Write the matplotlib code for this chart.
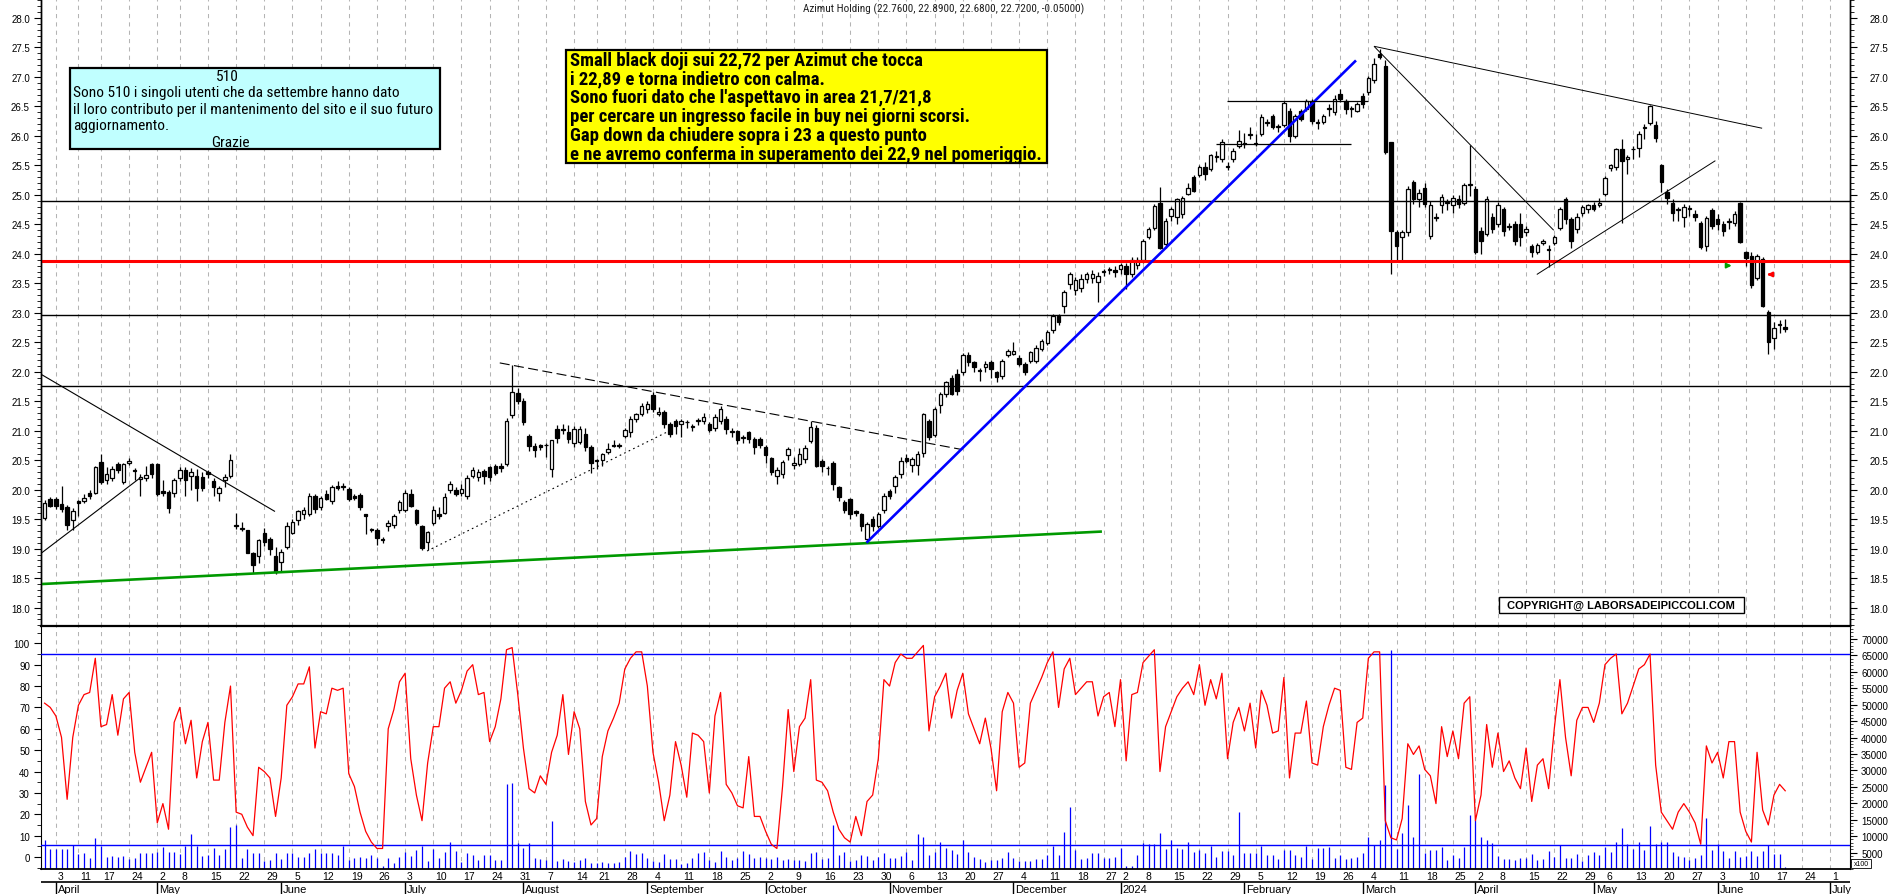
import numpy as np
import pandas as pd
import matplotlib
matplotlib.use("Agg")
import matplotlib.pyplot as plt
from matplotlib import font_manager as fm
from matplotlib.patches import Rectangle
from matplotlib.ticker import MultipleLocator, FixedLocator, FormatStrFormatter

plt.rcParams['font.family'] = ['Liberation Sans', 'DejaVu Sans']

# ---------------- data ----------------
HOLIDAYS = ["2023-04-07", "2023-04-10", "2023-05-01", "2023-08-15", "2023-12-25",
            "2023-12-26", "2024-01-01", "2024-03-29", "2024-04-01", "2024-05-01"]
FIRST_DAY, LAST_CAL_DAY = "2023-03-30", "2024-07-05"

OPEN = [
    19.52, 19.85, 19.85, 19.76, 19.70, 19.48, 19.80, 19.80, 19.95, 19.95,
    20.47, 20.16, 20.20, 20.44, 20.13, 20.45, 20.34, 20.18, 20.20, 20.43,
    20.43, 19.97, 19.96, 19.95, 20.20, 20.34, 20.23, 20.24, 20.22, 20.30,
    20.15, 19.95, 20.17, 20.24, 19.40, 19.33, 19.31, 18.93, 18.87, 19.27,
    19.17, 18.87, 18.77, 19.03, 19.27, 19.48, 19.59, 19.59, 19.90, 19.71,
    19.93, 19.80, 20.06, 20.04, 20.02, 19.89, 19.91, 19.58, 19.32, 19.32,
    19.17, 19.38, 19.40, 19.66, 19.66, 19.93, 19.66, 19.38, 19.11, 19.44,
    19.59, 19.61, 20.00, 20.00, 19.95, 19.89, 20.24, 20.21, 20.31, 20.38,
    20.41, 20.41, 20.44, 21.27, 21.64, 21.51, 20.91, 20.74, 20.75, 20.75,
    20.35, 21.03, 21.02, 20.98, 20.80, 20.81, 20.95, 20.72, 20.48, 20.50,
    20.64, 20.76, 20.75, 20.91, 20.97, 21.20, 21.29, 21.36, 21.60, 21.28,
    21.31, 21.11, 21.16, 21.11, 21.14, 21.06, 21.16, 21.17, 21.11, 21.04,
    21.17, 21.20, 20.98, 20.99, 20.87, 20.97, 20.86, 20.86, 20.72, 20.54,
    20.24, 20.27, 20.58, 20.42, 20.44, 20.52, 20.83, 21.04, 20.49, 20.36,
    20.45, 20.04, 19.79, 19.84, 19.63, 19.59, 19.17, 19.50, 19.39, 19.65,
    19.97, 20.06, 20.27, 20.53, 20.42, 20.42, 20.63, 21.17, 20.93, 21.43,
    21.62, 21.89, 21.96, 21.99, 22.29, 22.16, 22.02, 22.08, 22.16, 21.99,
    21.92, 22.29, 22.30, 22.23, 22.13, 22.19, 22.19, 22.39, 22.49, 22.71,
    22.95, 23.12, 23.49, 23.38, 23.42, 23.57, 23.59, 23.52, 23.70, 23.73,
    23.73, 23.74, 23.79, 23.65, 23.81, 23.90, 24.28, 24.43, 24.86, 24.17,
    24.65, 24.63, 24.68, 25.02, 25.30, 25.33, 25.48, 25.44, 25.64, 25.61,
    25.48, 25.61, 25.83, 25.87, 26.02, 25.88, 26.03, 26.22, 26.34, 26.15,
    26.18, 26.43, 26.00, 26.43, 26.46, 26.60, 26.22, 26.24, 26.45, 26.40,
    26.71, 26.60, 26.45, 26.43, 26.67, 26.74, 26.94, 27.39, 27.19, 25.89,
    24.37, 24.28, 24.37, 25.21, 24.93, 25.11, 24.31, 24.61, 24.83, 24.86,
    24.82, 24.93, 24.87, 25.17, 25.10, 24.39, 24.34, 24.62, 24.51, 24.76,
    24.45, 24.51, 24.51, 24.37, 24.14, 24.03, 24.19, 24.07, 24.18, 24.43,
    24.93, 24.59, 24.42, 24.70, 24.76, 24.83, 24.82, 25.02, 25.45, 25.47,
    25.78, 25.61, 25.77, 25.79, 26.14, 26.22, 26.18, 25.51, 25.05, 24.87,
    24.75, 24.62, 24.76, 24.68, 24.53, 24.13, 24.74, 24.59, 24.51, 24.54,
    24.52, 24.86, 24.03, 23.96, 23.59, 23.92, 23.02, 22.58, 22.80, 22.76,
]
HIGH = [
    19.82, 19.87, 19.88, 20.07, 19.74, 19.69, 19.82, 19.92, 19.99, 20.41,
    20.60, 20.38, 20.40, 20.47, 20.46, 20.53, 20.37, 20.27, 20.40, 20.46,
    20.46, 20.16, 20.00, 20.20, 20.38, 20.38, 20.36, 20.35, 20.30, 20.33,
    20.20, 20.06, 20.27, 20.60, 19.61, 19.45, 19.32, 18.95, 19.16, 19.35,
    19.20, 19.03, 19.00, 19.45, 19.50, 19.66, 19.70, 19.95, 19.92, 19.90,
    20.00, 20.08, 20.15, 20.12, 20.05, 19.92, 19.94, 19.59, 19.35, 19.35,
    19.20, 19.48, 19.58, 19.82, 20.00, 20.02, 19.68, 19.40, 19.30, 19.72,
    19.70, 19.95, 20.15, 20.05, 20.10, 20.25, 20.38, 20.35, 20.35, 20.40,
    20.43, 20.45, 21.22, 22.12, 21.72, 21.55, 20.95, 20.80, 20.78, 20.80,
    20.85, 21.10, 21.12, 21.10, 21.08, 21.08, 21.05, 20.75, 20.52, 20.62,
    20.80, 20.85, 20.80, 21.05, 21.25, 21.30, 21.47, 21.50, 21.65, 21.40,
    21.35, 21.15, 21.20, 21.20, 21.18, 21.12, 21.22, 21.30, 21.15, 21.28,
    21.42, 21.25, 21.05, 21.02, 20.92, 21.00, 20.90, 20.90, 20.75, 20.56,
    20.38, 20.50, 20.72, 20.55, 20.70, 20.75, 21.16, 21.10, 20.52, 20.40,
    20.48, 20.06, 19.82, 19.86, 19.65, 19.61, 19.45, 19.55, 19.62, 19.95,
    20.02, 20.25, 20.55, 20.60, 20.56, 20.66, 21.30, 21.20, 21.40, 21.65,
    21.85, 21.95, 22.05, 22.32, 22.33, 22.18, 22.06, 22.18, 22.20, 22.02,
    22.22, 22.38, 22.50, 22.28, 22.16, 22.36, 22.45, 22.56, 22.70, 22.98,
    22.98, 23.38, 23.69, 23.60, 23.65, 23.70, 23.72, 23.70, 23.75, 23.78,
    23.80, 23.85, 23.84, 23.95, 23.95, 24.25, 24.45, 24.85, 25.13, 24.60,
    24.80, 24.95, 24.98, 25.20, 25.33, 25.50, 25.55, 25.70, 25.75, 25.95,
    25.55, 25.80, 26.10, 26.05, 26.15, 26.03, 26.38, 26.28, 26.37, 26.20,
    26.60, 26.48, 26.38, 26.46, 26.63, 26.62, 26.29, 26.38, 26.54, 26.70,
    26.80, 26.63, 26.51, 26.58, 26.72, 27.02, 27.32, 27.47, 27.28, 25.90,
    24.40, 24.40, 25.15, 25.25, 25.10, 25.20, 24.90, 24.70, 25.02, 24.93,
    24.99, 24.99, 25.20, 25.85, 25.15, 24.45, 24.98, 24.70, 24.88, 24.80,
    24.52, 24.56, 24.70, 24.48, 24.17, 24.18, 24.25, 24.15, 24.32, 24.80,
    24.96, 24.62, 24.70, 24.82, 24.85, 24.88, 24.95, 25.32, 25.53, 25.80,
    25.95, 25.67, 25.83, 26.08, 26.20, 26.53, 26.25, 25.53, 25.10, 24.93,
    24.80, 24.85, 24.82, 24.75, 24.56, 24.65, 24.78, 24.68, 24.55, 24.60,
    24.72, 24.88, 24.05, 24.03, 24.00, 23.94, 23.05, 22.84, 22.87, 22.89,
]
LOW = [
    19.48, 19.70, 19.68, 19.62, 19.31, 19.31, 19.56, 19.77, 19.85, 19.92,
    20.10, 20.10, 20.15, 20.28, 20.10, 20.42, 20.16, 19.90, 20.15, 20.20,
    19.90, 19.90, 19.60, 19.88, 20.15, 19.90, 20.00, 19.80, 19.97, 20.20,
    19.90, 19.80, 20.05, 20.20, 19.34, 19.30, 18.92, 18.59, 18.75, 19.05,
    18.90, 18.57, 18.60, 19.00, 19.25, 19.40, 19.50, 19.55, 19.60, 19.65,
    19.82, 19.76, 20.00, 20.00, 19.80, 19.82, 19.65, 19.25, 19.28, 19.06,
    19.10, 19.30, 19.35, 19.60, 19.62, 19.70, 19.40, 18.98, 18.97, 19.40,
    19.50, 19.58, 19.95, 19.90, 19.90, 19.85, 20.20, 20.15, 20.10, 20.15,
    20.25, 20.30, 20.40, 21.22, 21.45, 21.10, 20.65, 20.55, 20.68, 20.55,
    20.22, 20.80, 20.95, 20.80, 20.72, 20.78, 20.65, 20.28, 20.35, 20.40,
    20.60, 20.72, 20.70, 20.88, 20.90, 21.15, 21.25, 21.30, 21.32, 21.25,
    21.05, 20.90, 20.95, 20.90, 21.05, 21.00, 21.10, 21.12, 20.98, 21.00,
    21.12, 20.95, 20.90, 20.78, 20.80, 20.80, 20.60, 20.70, 20.45, 20.25,
    20.10, 20.20, 20.50, 20.35, 20.40, 20.45, 20.80, 20.38, 20.30, 20.25,
    20.00, 19.80, 19.60, 19.50, 19.55, 19.30, 19.11, 19.30, 19.35, 19.60,
    19.85, 19.95, 20.20, 20.45, 20.30, 20.25, 20.55, 20.85, 20.90, 21.30,
    21.58, 21.60, 21.60, 21.95, 22.10, 22.00, 21.85, 22.00, 21.90, 21.82,
    21.88, 22.25, 22.28, 22.10, 21.95, 22.15, 22.15, 22.35, 22.45, 22.65,
    22.80, 23.00, 23.40, 23.30, 23.35, 23.50, 23.50, 23.18, 23.62, 23.65,
    23.60, 23.65, 23.40, 23.60, 23.75, 23.85, 24.25, 24.40, 24.08, 24.10,
    24.55, 24.50, 24.60, 25.00, 25.05, 25.30, 25.25, 25.40, 25.55, 25.55,
    25.42, 25.55, 25.80, 25.80, 25.95, 25.83, 26.00, 26.17, 26.12, 26.06,
    26.15, 25.89, 25.97, 26.25, 26.42, 26.20, 26.12, 26.20, 26.34, 26.36,
    26.58, 26.38, 26.32, 26.40, 26.48, 26.70, 26.90, 27.30, 25.70, 23.66,
    23.90, 23.90, 24.30, 24.85, 24.80, 24.80, 24.25, 24.55, 24.70, 24.75,
    24.70, 24.78, 24.82, 24.98, 24.00, 24.00, 24.30, 24.35, 24.45, 24.30,
    24.40, 24.15, 24.14, 24.30, 23.94, 24.00, 24.15, 23.77, 24.15, 24.40,
    24.50, 24.10, 24.35, 24.65, 24.70, 24.72, 24.80, 24.98, 25.40, 25.42,
    24.53, 25.35, 25.60, 25.65, 25.95, 26.18, 25.90, 25.05, 24.85, 24.55,
    24.55, 24.45, 24.65, 24.55, 24.08, 24.05, 24.42, 24.40, 24.30, 24.42,
    24.48, 24.18, 23.80, 23.42, 23.55, 23.10, 22.30, 22.39, 22.66, 22.68,
]
CLOSE = [
    19.77, 19.73, 19.72, 19.67, 19.40, 19.63, 19.77, 19.86, 19.89, 20.38,
    20.13, 20.27, 20.35, 20.33, 20.44, 20.49, 20.32, 20.22, 20.25, 20.27,
    19.92, 19.95, 19.69, 20.17, 20.34, 20.17, 20.30, 20.03, 20.03, 20.26,
    20.04, 20.03, 20.21, 20.50, 19.39, 19.35, 18.93, 18.72, 19.14, 19.12,
    19.00, 18.61, 18.94, 19.38, 19.45, 19.63, 19.65, 19.89, 19.68, 19.86,
    19.85, 20.04, 20.03, 20.06, 19.85, 19.86, 19.71, 19.55, 19.32, 19.18,
    19.14, 19.44, 19.56, 19.79, 19.95, 19.73, 19.44, 19.01, 19.28, 19.65,
    19.56, 19.87, 20.10, 19.93, 20.02, 20.19, 20.34, 20.30, 20.24, 20.21,
    20.29, 20.36, 21.17, 21.65, 21.51, 21.15, 20.74, 20.68, 20.72, 20.75,
    20.84, 20.87, 21.01, 20.86, 21.03, 21.03, 20.72, 20.46, 20.50, 20.61,
    20.69, 20.74, 20.74, 21.02, 21.20, 21.28, 21.42, 21.45, 21.37, 21.32,
    21.11, 20.95, 21.08, 21.17, 21.14, 21.06, 21.17, 21.23, 21.02, 21.23,
    21.36, 21.03, 20.98, 20.85, 20.87, 20.86, 20.72, 20.75, 20.58, 20.30,
    20.33, 20.47, 20.69, 20.46, 20.61, 20.70, 21.06, 20.41, 20.41, 20.36,
    20.10, 19.87, 19.66, 19.59, 19.61, 19.38, 19.42, 19.38, 19.59, 19.90,
    19.90, 20.21, 20.49, 20.49, 20.52, 20.61, 21.28, 20.89, 21.36, 21.62,
    21.82, 21.62, 21.68, 22.29, 22.16, 22.08, 22.02, 22.13, 22.05, 21.91,
    22.19, 22.35, 22.36, 22.13, 21.99, 22.33, 22.41, 22.53, 22.67, 22.95,
    22.84, 23.35, 23.66, 23.55, 23.58, 23.66, 23.66, 23.63, 23.70, 23.73,
    23.69, 23.81, 23.66, 23.90, 23.90, 24.21, 24.42, 24.81, 24.10, 24.56,
    24.76, 24.93, 24.94, 25.12, 25.07, 25.47, 25.35, 25.67, 25.65, 25.90,
    25.48, 25.75, 25.92, 25.86, 26.03, 25.86, 26.32, 26.24, 26.15, 26.17,
    26.56, 26.00, 26.34, 26.29, 26.60, 26.26, 26.23, 26.34, 26.46, 26.62,
    26.62, 26.46, 26.46, 26.54, 26.54, 26.99, 27.22, 27.33, 25.72, 24.38,
    24.13, 24.37, 25.10, 24.93, 25.04, 24.85, 24.82, 24.62, 24.96, 24.87,
    24.94, 24.85, 25.16, 25.18, 24.03, 24.22, 24.93, 24.42, 24.82, 24.39,
    24.48, 24.22, 24.28, 24.42, 24.03, 24.15, 24.21, 24.07, 24.28, 24.76,
    24.59, 24.22, 24.62, 24.79, 24.82, 24.76, 24.87, 25.28, 25.50, 25.78,
    25.58, 25.64, 25.78, 26.03, 26.15, 26.50, 25.96, 25.21, 24.94, 24.69,
    24.75, 24.79, 24.76, 24.62, 24.11, 24.60, 24.48, 24.51, 24.39, 24.55,
    24.68, 24.20, 23.93, 23.47, 23.96, 23.11, 22.51, 22.74, 22.81, 22.72,
]
# oscillator (left scale of the lower panel)
OSC = [
    72, 70, 66, 56, 27, 56, 71, 76, 77, 93, 61, 62, 76, 57, 74, 77, 49, 35, 42, 49,
    16, 25, 13, 63, 70, 53, 64, 37, 54, 63, 36, 36, 63, 80, 21, 20, 14, 10, 42, 40,
    37, 19, 37, 71, 75, 81, 81, 89, 51, 68, 67, 79, 78, 79, 39, 33, 21, 12, 7, 4,
    4, 60, 69, 82, 86, 46, 29, 17, 44, 61, 61, 79, 82, 72, 78, 87, 90, 76, 77, 54,
    61, 74, 97, 98, 76, 51, 32, 30, 38, 34, 49, 57, 76, 48, 68, 60, 26, 15, 18, 47,
    59, 65, 72, 88, 93, 96, 96, 80, 49, 35, 17, 29, 54, 43, 28, 58,
    57, 54, 30, 66, 77, 34, 30, 24, 23, 47, 19, 19, 12, 6, 4, 33, 69, 40, 61, 65,
    83, 36, 35, 31, 21, 13, 9, 7, 19, 10, 26, 29, 46, 83, 80, 91, 95, 93, 93, 96,
    99, 59, 75, 80, 86, 65, 78, 86, 67, 60, 53, 65, 51, 31, 68, 77, 72, 42, 44, 72,
    78, 84, 91, 96, 70, 88, 93, 76, 79, 82, 82, 66, 75, 77, 61, 83, 45, 76, 77, 91,
    94, 97, 40, 61, 68, 75, 79, 82, 76, 90, 71, 83, 74, 86, 46, 63, 70, 59, 72, 51,
    78, 71, 58, 59, 84, 37, 58, 58, 73, 44, 43, 61, 71, 79, 78, 42, 41, 63, 65, 93,
    96, 96, 17, 9, 8, 18,
    53, 48, 52, 41, 38, 25, 61, 47, 59, 46, 72, 75, 17, 29, 62, 42, 58, 40, 45, 37,
    32, 51, 26, 43, 46, 32, 60, 83, 56, 38, 64, 70, 70, 63, 72, 90, 93, 95, 67, 72,
    80, 88, 90, 95, 43, 21, 17, 13, 21, 25, 21, 16, 6, 52, 44, 49, 37, 54, 54, 21,
    12, 7, 49, 22, 15, 29, 34, 31,
]
# volume, in hundreds of the right-hand scale units (scale shows x100)
VOLUME = [
    88, 60, 62, 62, 60, 73, 47, 50, 33, 94, 70, 36, 39, 36, 39, 30, 33, 50, 50, 48,
    53, 66, 53, 53, 45, 70, 108, 70, 39, 44, 63, 44, 60, 127, 134, 33, 60, 48, 50, 25,
    28, 50, 30, 48, 50, 36, 36, 50, 60, 50, 50, 50, 44, 70, 27, 34, 36, 32, 44, 32,
    10, 32, 17, 38, 53, 41, 58, 70, 23, 60, 34, 53, 82, 55, 21, 48, 44, 28, 43, 44,
    28, 28, 260, 262, 78, 65, 78, 34, 31, 27, 145, 23, 30, 24, 20, 27, 33, 18, 19, 20,
    18, 18, 20, 38, 55, 45, 50, 35, 25, 22, 47, 29, 30, 15, 18, 32, 50,
    52, 28, 22, 54, 38, 28, 32, 54, 47, 33, 38, 33, 30, 38, 28, 30, 28, 28, 24, 48,
    53, 30, 33, 133, 44, 52, 24, 28, 44, 40, 28, 38, 48, 33, 33, 40, 53, 28, 108, 96,
    42, 53, 81, 65, 57, 45, 87, 53, 38, 30, 20, 28, 28, 33, 53, 33, 25, 25, 25, 30,
    30, 42, 70, 42, 114, 189, 57, 30, 32, 48, 48, 35, 32, 38, 65, 8, 8, 42, 79, 75,
    75, 109, 60, 88, 65, 62, 81, 52, 57, 48, 70, 38, 54, 54, 42, 173, 48, 48, 48, 70,
    44, 44, 30, 57, 57, 44, 36, 70, 30, 63, 63, 66, 32, 42, 30, 33, 36, 50, 96, 74,
    89, 255, 667, 60,
    109, 194, 96, 290, 48, 58, 58, 67, 28, 44, 33, 67, 164, 149, 98, 89, 79, 40, 30, 30,
    28, 33, 32, 45, 28, 30, 55, 38, 72, 32, 34, 45, 25, 44, 52, 44, 67, 52, 82, 124,
    75, 60, 82, 58, 131, 75, 81, 81, 52, 40, 38, 28, 34, 44, 154, 58, 75, 55, 34, 55,
    38, 40, 55, 40, 55, 72, 45, 45, 5,
]

LEVELS = [24.89, 23.88, 22.96, 21.75]
LEVEL_COLORS = ['black', '#ff0000', 'black', 'black']
LEVEL_WIDTHS = [1.0, 2.2, 1.0, 1.0]
OSC_LEVELS = [95, 5.5]

# trend lines: (bar index, price) -> (bar index, price), colour, width, style
TRENDS = [
    ((-0.5, 21.95), (40.9, 19.63), 'black', 0.8, '-'),
    ((-0.5, 18.93), (17.1, 20.21), 'black', 0.8, '-'),
    ((80.8, 22.15), (162.9, 20.68), 'black', 0.8, (0, (9, 4))),
    ((67.9, 18.96), (111.6, 21.03), 'black', 0.8, (0, (1.5, 3))),
    ((-0.5, 18.40), (187.7, 19.29), '#009900', 1.9, '-'),
    ((145.9, 19.10), (232.8, 27.28), '#0000ff', 1.9, '-'),
    ((236.0, 27.52), (267.9, 24.40), 'black', 0.7, '-'),
    ((236.0, 27.52), (304.9, 26.13), 'black', 0.7, '-'),
    ((264.9, 23.65), (296.6, 25.58), 'black', 0.7, '-'),
    ((209.9, 26.59), (235.0, 26.59), 'black', 0.9, '-'),
    ((208.0, 25.86), (231.9, 25.86), 'black', 0.9, '-'),
]

TITLE = "Azimut Holding (22.7600, 22.8900, 22.6800, 22.7200, -0.05000)"
NOTE_YELLOW = [
    "Small black doji sui 22,72 per Azimut che tocca",
    "i 22,89 e torna indietro con calma.",
    "Sono fuori dato che l'aspettavo in area 21,7/21,8",
    "per cercare un ingresso facile in buy nei giorni scorsi.",
    "Gap down da chiudere sopra i 23 a questo punto",
    "e ne avremo conferma in superamento dei 22,9 nel pomeriggio.",
]
NOTE_CYAN_HEAD = "510"
NOTE_CYAN = [
    "Sono 510 i singoli utenti che da settembre hanno dato",
    "il loro contributo per il mantenimento del sito e il suo futuro",
    "aggiornamento.",
]
NOTE_CYAN_FOOT = "Grazie"
COPYRIGHT = "COPYRIGHT@ LABORSADEIPICCOLI.COM"

assert len(OPEN) == len(HIGH) == len(LOW) == len(CLOSE) == len(OSC) == len(VOLUME), \
    (len(OPEN), len(HIGH), len(LOW), len(CLOSE), len(OSC), len(VOLUME))


# narrow font for the notes (Arial Narrow look), if one is installed
def narrow_font():
    entries = fm.fontManager.ttflist
    names = {f.name for f in entries}
    for name in ['Liberation Sans Narrow', 'Arial Narrow', 'Roboto Condensed',
                 'Noto Sans Condensed', 'Open Sans Condensed']:
        if name in names:
            return dict(family=[name, 'DejaVu Sans'])
    for name in ['Roboto', 'Noto Sans', 'Open Sans']:
        for f in entries:
            if f.name == name and f.stretch in ('condensed', 'semi-condensed', 'extra-condensed'):
                return dict(family=[name, 'DejaVu Sans'], fontstretch=f.stretch)
    return dict(family=['Liberation Sans', 'DejaVu Sans'])


NARROW = narrow_font()

# ---------------- layout ----------------
W, H = 1890, 895
fig = plt.figure(figsize=(W / 100, H / 100), dpi=100)


def box(l, t, r, b):
    return [l / W, 1 - b / H, (r - l) / W, (b - t) / H]


def fig_rect(l, t, r, b, **kw):
    fig.add_artist(Rectangle((l / W, 1 - b / H), (r - l) / W, (b - t) / H,
                             transform=fig.transFigure, **kw))


def fig_txt(x, y, s, **kw):
    return fig.text(x / W, 1 - y / H, s, **kw)


def fit_width(texts, target):
    rend = fig.canvas.get_renderer()
    wmax = max(t.get_window_extent(rend).width for t in texts)
    k = target / wmax
    for t in texts:
        t.set_fontsize(t.get_fontsize() * k)


ax = fig.add_axes(box(41, 0, 1850, 627))
axr = ax.twinx()
axv = fig.add_axes(box(41, 627, 1850, 870))
axo = axv.twinx()
axd = fig.add_axes(box(41, 870, 1850, 895))

XL = (-0.64, 320.5)
cal = pd.bdate_range(FIRST_DAY, LAST_CAL_DAY, freq='C', holidays=HOLIDAYS)
weeks = [i for i in range(1, len(cal)) if cal[i].weekday() < cal[i - 1].weekday() and i < XL[1]]
months = [i for i in range(1, len(cal)) if cal[i].month != cal[i - 1].month and i < XL[1]]

n = len(CLOSE)
x = np.arange(n)
o, h, l, c = (np.array(v) for v in (OPEN, HIGH, LOW, CLOSE))

# weekly dashed grid
for a in (ax, axv):
    for i in weeks:
        a.axvline(i, color='#b4b4b4', lw=0.75, ls=(0, (4, 4)), zorder=0)

# candles
ax.vlines(x, l, h, color='black', lw=0.9, zorder=2)
lo = np.minimum(o, c)
ht = np.maximum(np.abs(c - o), 0.015)
up = c >= o
ax.bar(x[up], ht[up], bottom=lo[up], width=0.62, color='white', edgecolor='black', lw=0.9, zorder=3)
ax.bar(x[~up], ht[~up], bottom=lo[~up], width=0.62, color='black', edgecolor='black', lw=0.9, zorder=3)

for lev, col, lw in zip(LEVELS, LEVEL_COLORS, LEVEL_WIDTHS):
    ax.axhline(lev, color=col, lw=lw, zorder=4)
for (x0, y0), (x1, y1), col, lw, ls in TRENDS:
    ax.plot([x0, x1], [y0, y1], color=col, lw=lw, ls=ls, zorder=5, solid_capstyle='butt')

ax.annotate('', xy=(300.0, 23.80), xytext=(298.0, 23.80),
            arrowprops=dict(arrowstyle='-|>', color='#00a000', lw=1.4, mutation_scale=7), zorder=6)
ax.annotate('', xy=(305.3, 23.65), xytext=(306.9, 23.65),
            arrowprops=dict(arrowstyle='-|>', color='#ff0000', lw=1.4, mutation_scale=7), zorder=6)

YL = (17.688, 28.322)
for a in (ax, axr):
    a.set_xlim(*XL)
    a.set_ylim(*YL)
    a.yaxis.set_major_locator(MultipleLocator(0.5))
    a.yaxis.set_minor_locator(MultipleLocator(0.1))
    a.yaxis.set_major_formatter(FormatStrFormatter('%.1f'))
    for s in ('top', 'bottom'):
        a.spines[s].set_visible(False)
ax.set_xticks([])
ax.tick_params(axis='y', which='both', left=True, right=False, labelleft=True, labelright=False,
               direction='out', labelsize=7, pad=3)
axr.tick_params(axis='y', which='both', left=False, right=True, labelleft=False, labelright=True,
                direction='out', labelsize=7, pad=9)
for a in (ax, axr):
    a.tick_params(axis='y', which='major', length=5, width=0.8)
    a.tick_params(axis='y', which='minor', length=3, width=0.6)
    a.spines['left'].set_linewidth(1.0)
    a.spines['right'].set_linewidth(1.0)

# lower panel: volume (right scale) and oscillator (left scale)
axv.vlines(x, 0, np.array(VOLUME) * 100, color='#0000ff', lw=0.9)
axv.set_xlim(*XL)
axv.set_ylim(0, 73957)
axv.set_xticks([])
axv.yaxis.tick_right()
axv.yaxis.set_major_locator(FixedLocator(range(5000, 70001, 5000)))
axv.yaxis.set_minor_locator(MultipleLocator(1000))
axv.tick_params(axis='y', which='both', direction='out', labelsize=7, pad=3)
axv.tick_params(axis='y', which='major', length=5, width=0.8)
axv.tick_params(axis='y', which='minor', length=2.5, width=0.5)
axv.spines['top'].set_linewidth(1.6)
axv.spines['bottom'].set_linewidth(1.3)

for lev in OSC_LEVELS:
    axo.axhline(lev, color='#0000ff', lw=1.0)
axo.plot(x, OSC, color='#ff0000', lw=0.9)
axo.set_ylim(-5.6, 108.1)
axo.yaxis.tick_left()
axo.yaxis.set_major_locator(MultipleLocator(10))
axo.yaxis.set_minor_locator(MultipleLocator(5))
axo.tick_params(axis='y', which='both', direction='out', labelsize=7, pad=3)
axo.tick_params(axis='y', which='major', length=5, width=0.8)
axo.tick_params(axis='y', which='minor', length=3, width=0.6)
for s in axo.spines.values():
    s.set_visible(False)

# date strip
axd.set_xlim(*XL)
axd.set_ylim(25, 0)
axd.axis('off')
axd.plot(XL, [13, 13], color='black', lw=1.2)
for i in weeks:
    axd.text(i + 0.35, 6.8, str(cal[i].day), fontsize=7.5, ha='left', va='center')
for i in months:
    name = str(cal[i].year) if cal[i].month == 1 else cal[i].strftime('%B')
    axd.vlines(i, 13, 25, color='black', lw=1.0)
    axd.text(i + 0.35, 19.8, name, fontsize=8, ha='left', va='center')

# texts and notes
title = fig_txt(944, 9, TITLE, fontsize=7.3, ha='center', va='center', color='#202020', **NARROW)
fit_width([title], 283)

fig_rect(70, 69, 440, 150, facecolor='#c0ffff', edgecolor='black', lw=1.6)
cyan = [fig_txt(227, 77, NOTE_CYAN_HEAD, fontsize=10.5, ha='center', va='center', **NARROW)]
for k, line in enumerate(NOTE_CYAN):
    cyan.append(fig_txt(73, 93 + k * 16.7, line, fontsize=10.5, ha='left', va='center', **NARROW))
cyan.append(fig_txt(230, 143, NOTE_CYAN_FOOT, fontsize=10.5, ha='center', va='center', **NARROW))
fit_width(cyan, 364)

fig_rect(566, 51, 1047, 164, facecolor='#ffff00', edgecolor='black', lw=1.6)
yellow = []
for k, line in enumerate(NOTE_YELLOW):
    yellow.append(fig_txt(570, 60.5 + k * 18.8, line, fontsize=12.5, weight='bold',
                          ha='left', va='center', **NARROW))
fit_width(yellow, 474)

fig_rect(1499, 598, 1744, 614, facecolor='white', edgecolor='black', lw=1.0)
fig_txt(1621, 606, COPYRIGHT, fontsize=8, weight='bold', ha='center', va='center')

fig_rect(1851, 860, 1871, 869, facecolor='white', edgecolor='black', lw=0.6)
fig_txt(1861, 864.5, "x100", fontsize=5, ha='center', va='center')

fig.savefig('out.png', dpi=100)
